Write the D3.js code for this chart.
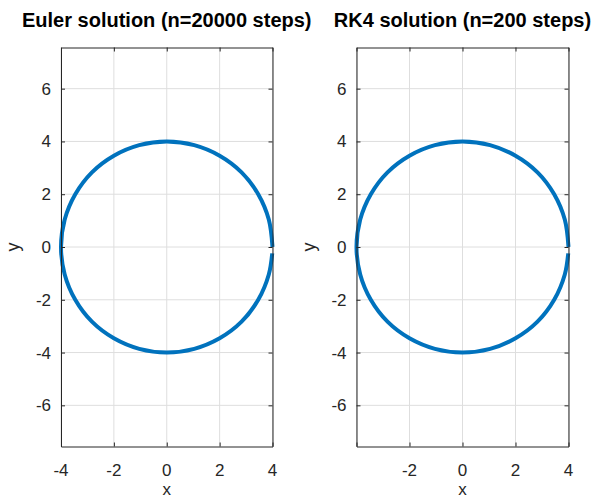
<!DOCTYPE html>
<html>
<head>
<meta charset="utf-8">
<script src="https://cdn.jsdelivr.net/npm/d3@7"></script>
<style>
    body { margin: 0; background: #fff; }
    svg { display: block; font-family: "Liberation Sans", Arial, sans-serif; }
</style>
</head>
<body>
<svg width="594" height="497"></svg>
<script>
// trajectory (same circle in both panels, small gap near (4,0))
const trajX = [4.00, 3.86, 3.46, 2.83, 2.00, 1.04, 0.00, -1.04, -2.00, -2.83, -3.46, -3.86, -4.00,
               -3.86, -3.46, -2.83, -2.00, -1.04, 0.00, 1.04, 2.00, 2.83, 3.46, 3.86, 3.99];
const trajY = [0.00, 1.04, 2.00, 2.83, 3.46, 3.86, 4.00, 3.86, 3.46, 2.83, 2.00, 1.04, 0.00,
               -1.04, -2.00, -2.83, -3.46, -3.86, -4.00, -3.86, -3.46, -2.83, -2.00, -1.04, -0.24];

const titles = ["Euler solution (n=20000 steps)", "RK4 solution (n=200 steps)"];
const xTicks = [[-4, -2, 0, 2, 4], [-2, 0, 2, 4]];
const yTicks = [-6, -4, -2, 0, 2, 4, 6];
const xDomain = [-4, 4];
const yDomain = [-7.56, 7.56];

const svg = d3.select("svg");
const panels = [
    { left: 61, right: 272.5 },
    { left: 356.5, right: 568.5 }
];
const plotTop = 47.5, plotBottom = 446.5;

const points = trajX.map((x, i) => [x, trajY[i]]);

panels.forEach((p, k) => {
    const x = d3.scaleLinear().domain(xDomain).range([p.left, p.right]);
    const y = d3.scaleLinear().domain(yDomain).range([plotBottom, plotTop]);
    const g = svg.append("g");

    // grid
    g.append("g").selectAll("line")
        .data(d3.range(-4, 5, 2)).enter()
        .append("line")
        .attr("x1", d => x(d)).attr("x2", d => x(d))
        .attr("y1", plotTop).attr("y2", plotBottom)
        .attr("stroke", "#dedede");
    g.append("g").selectAll("line")
        .data(yTicks).enter()
        .append("line")
        .attr("x1", p.left).attr("x2", p.right)
        .attr("y1", d => y(d)).attr("y2", d => y(d))
        .attr("stroke", "#dedede");

    // curve
    g.append("path")
        .datum(points)
        .attr("fill", "none")
        .attr("stroke", "#0072BD")
        .attr("stroke-width", 4)
        .attr("d", d3.line().x(d => x(d[0])).y(d => y(d[1])).curve(d3.curveCatmullRom));

    // axes (ticks inward, on all four sides)
    const axB = d3.axisBottom(x).tickValues(d3.range(-4, 5, 2)).tickSizeInner(-4).tickSizeOuter(0).tickFormat("");
    const axT = d3.axisTop(x).tickValues(d3.range(-4, 5, 2)).tickSizeInner(-4).tickSizeOuter(0).tickFormat("");
    const axL = d3.axisLeft(y).tickValues(yTicks).tickSizeInner(-4).tickSizeOuter(0).tickFormat("");
    const axR = d3.axisRight(y).tickValues(yTicks).tickSizeInner(-4).tickSizeOuter(0).tickFormat("");

    [[axB, `translate(0,${plotBottom})`], [axT, `translate(0,${plotTop})`],
     [axL, `translate(${p.left},0)`], [axR, `translate(${p.right},0)`]].forEach(([ax, tr]) => {
        const a = g.append("g").attr("transform", tr).call(ax);
        a.selectAll("path, line").attr("stroke", "#262626");
    });

    // tick labels
    g.append("g").selectAll("text")
        .data(xTicks[k]).enter()
        .append("text")
        .attr("x", d => x(d))
        .attr("y", 476)
        .attr("text-anchor", "middle")
        .attr("font-size", "17px")
        .attr("fill", "#262626")
        .text(d => d);
    g.append("g").selectAll("text")
        .data(yTicks).enter()
        .append("text")
        .attr("x", p.left - 10)
        .attr("y", d => y(d) + 6)
        .attr("text-anchor", "end")
        .attr("font-size", "17px")
        .attr("fill", "#262626")
        .text(d => d);

    // axis labels
    g.append("text")
        .attr("x", (p.left + p.right) / 2)
        .attr("y", 495)
        .attr("text-anchor", "middle")
        .attr("font-size", "17px")
        .attr("fill", "#262626")
        .text("x");
    g.append("text")
        .attr("transform", `translate(${p.left - 42},${y(0)}) rotate(-90)`)
        .attr("text-anchor", "middle")
        .attr("font-size", "18px")
        .attr("fill", "#262626")
        .text("y");

    g.append("text")
        .attr("x", (p.left + p.right) / 2)
        .attr("y", 27)
        .attr("text-anchor", "middle")
        .attr("font-size", "20px")
        .attr("font-weight", "bold")
        .attr("fill", "#000")
        .text(titles[k]);
});
</script>
</body>
</html>
